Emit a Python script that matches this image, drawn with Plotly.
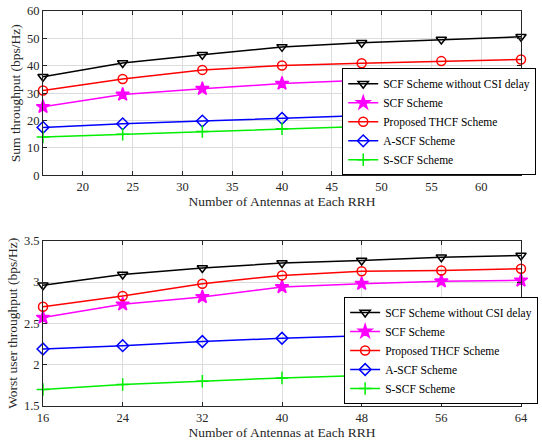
import plotly.graph_objects as go

antennas = [16, 24, 32, 40, 48, 56, 64]
names = ["SCF Scheme without CSI delay", "SCF Scheme", "Proposed THCF Scheme", "A-SCF Scheme", "S-SCF Scheme"]

sum_nodelay = [36.0, 41.0, 44.0, 46.9, 48.4, 49.6, 50.6]
sum_scf = [25.0, 29.5, 31.6, 33.5, 34.7, 35.5, 36.2]
sum_thcf = [31.0, 35.2, 38.5, 40.1, 40.9, 41.7, 42.3]
sum_ascf = [17.5, 18.8, 19.8, 20.8, 21.9, 22.9, 23.8]
sum_sscf = [14.0, 15.0, 16.0, 17.0, 17.8, 18.6, 19.4]

worst_nodelay = [2.96, 3.09, 3.17, 3.23, 3.26, 3.30, 3.32]
worst_scf = [2.57, 2.73, 2.82, 2.94, 2.98, 3.01, 3.02]
worst_thcf = [2.70, 2.83, 2.98, 3.08, 3.13, 3.14, 3.16]
worst_ascf = [2.19, 2.23, 2.28, 2.32, 2.35, 2.38, 2.42]
worst_sscf = [1.70, 1.76, 1.80, 1.84, 1.87, 1.90, 1.93]

colors = ["#000000", "#ff00ff", "#ff0000", "#0000ff", "#00ee00"]
symbols = ["triangle-down-open", "star", "circle-open", "diamond-open", "cross-thin-open"]
msizes = [9, 10, 9, 9, 9]

FONT = "Liberation Serif"
fig = go.Figure()

top = [sum_nodelay, sum_scf, sum_thcf, sum_ascf, sum_sscf]
bot = [worst_nodelay, worst_scf, worst_thcf, worst_ascf, worst_sscf]

for i in range(5):
    fig.add_trace(go.Scatter(
        x=antennas, y=top[i], name=names[i], mode="lines+markers",
        line=dict(color=colors[i], width=1.5),
        marker=dict(symbol=symbols[i], size=msizes[i], color=colors[i],
                    line=dict(color=colors[i], width=1.5)),
        xaxis="x", yaxis="y", legend="legend", cliponaxis=False))
for i in range(5):
    fig.add_trace(go.Scatter(
        x=antennas, y=bot[i], name=names[i], mode="lines+markers",
        line=dict(color=colors[i], width=1.5),
        marker=dict(symbol=symbols[i], size=msizes[i], color=colors[i],
                    line=dict(color=colors[i], width=1.5)),
        xaxis="x2", yaxis="y2", legend="legend2", cliponaxis=False))

axis_common = dict(showline=True, linecolor="#262626", linewidth=1, mirror="ticks",
                   ticks="inside", ticklen=4, tickcolor="#262626",
                   showgrid=True, gridcolor="#dcdcdc", gridwidth=1, zeroline=False,
                   tickfont=dict(family=FONT, size=12.5, color="#262626"))

legend_common = dict(bgcolor="white", bordercolor="#000000", borderwidth=1,
                     font=dict(family=FONT, size=11.5, color="#000000"),
                     xanchor="left", yanchor="bottom", tracegroupgap=0, itemwidth=30)

title_font = dict(family=FONT, size=13.5, color="#262626")

fig.update_layout(
    width=542, height=444,
    margin=dict(l=43, r=4, t=7, b=38),
    plot_bgcolor="white", paper_bgcolor="white",
    font=dict(family=FONT, color="#262626"),
    xaxis=dict(domain=[0, 1], range=[16, 64], tickvals=[20, 25, 30, 35, 40, 45, 50, 55, 60],
               anchor="y",
               title=dict(text="Number of Antennas at Each RRH", font=title_font, standoff=2),
               **axis_common),
    yaxis=dict(domain=[0.584, 1], range=[0, 60], dtick=10, anchor="x",
               title=dict(text="Sum throughput (bps/Hz)", font=title_font, standoff=3),
               **axis_common),
    xaxis2=dict(domain=[0, 1], range=[16, 64], tickvals=antennas, anchor="y2",
                title=dict(text="Number of Antennas at Each RRH", font=title_font, standoff=2),
                **axis_common),
    yaxis2=dict(domain=[0, 0.4185], range=[1.5, 3.5], dtick=0.5, anchor="x2",
                title=dict(text="Worst user throughput (bps/Hz)", font=title_font, standoff=3),
                **axis_common),
    legend=dict(x=0.626, y=0.584, **legend_common),
    legend2=dict(x=0.63, y=0.005, **legend_common),
)

fig.write_html("out.html", config={"displayModeBar": False},
               post_script="document.body.style.margin='0';document.body.style.overflow='hidden';")
